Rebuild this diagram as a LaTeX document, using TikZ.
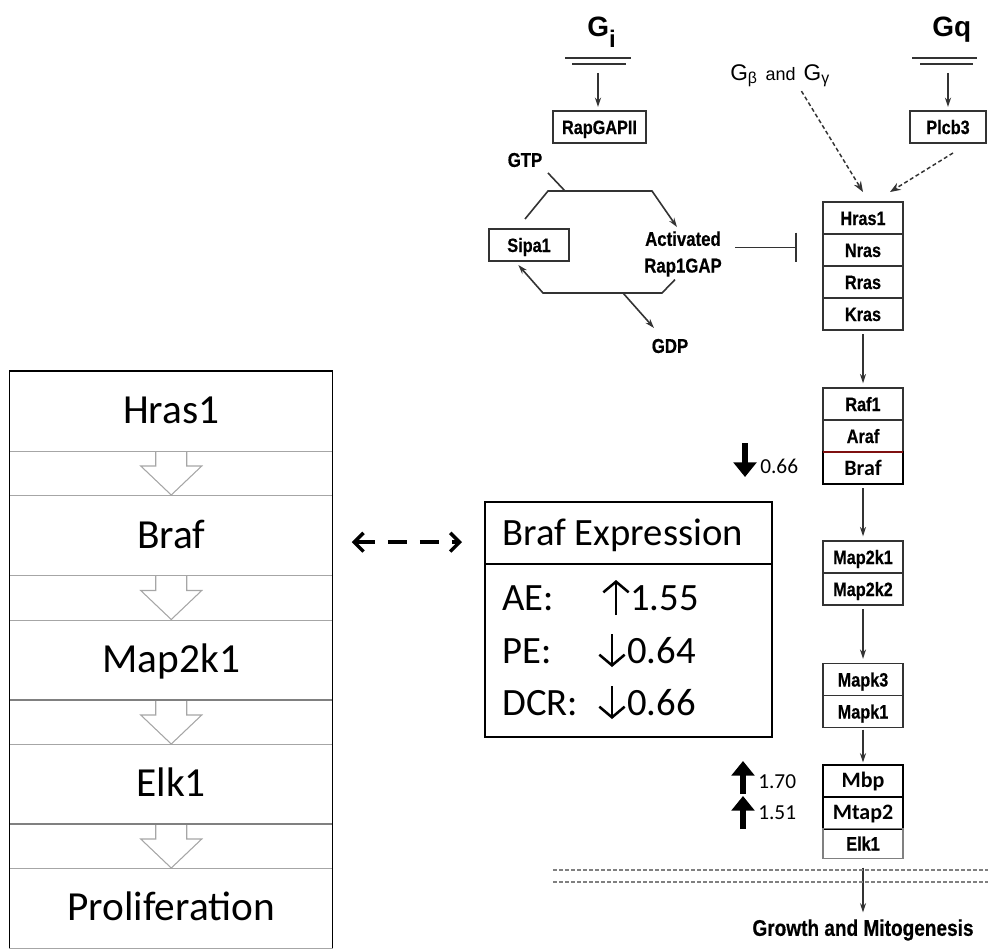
\documentclass[tikz,border=0pt]{standalone}
\usepackage{fontspec}
\setmainfont{Carlito}
\newfontfamily\arialfont{Liberation Sans}
\newfontfamily\narrowfont[FakeStretch=0.84,FakeBold=0.5]{Liberation Sans}
\usetikzlibrary{arrows.meta,positioning}
\definecolor{boxgray}{HTML}{333333}
\definecolor{lightline}{HTML}{A6A6A6}
\definecolor{darkred}{HTML}{7F1010}

\begin{document}
\begin{tikzpicture}[x=0.75pt,y=-0.75pt]
\tikzstyle{stage}=[rectangle,draw=lightline,minimum width=242.25pt,minimum height=60pt,inner sep=0pt,outer sep=0pt,text height=19pt,text depth=0pt,font=\fontsize{31}{31}\selectfont]
\tikzstyle{hollow}=[draw=lightline,line width=0.8pt]
\tikzstyle{gene}=[rectangle,draw=boxgray,line width=1.3pt,minimum width=60pt,minimum height=24pt,inner sep=0pt,outer sep=0pt,text height=10.5pt,text depth=0pt,font=\narrowfont\bfseries\fontsize{14.5}{14.5}\selectfont]
\tikzstyle{hit}=[gene,draw=black,line width=1.5pt,font=\bfseries\fontsize{16.5}{16.5}\selectfont]
\tikzstyle{lbl}=[font=\narrowfont\bfseries\fontsize{15}{20}\selectfont,inner sep=2pt]
\tikzstyle{arr}=[draw=boxgray,line width=1.2pt,-{Stealth[length=7pt,width=4.5pt]}]
\tikzstyle{act}=[arr,shorten <=3pt,shorten >=3.5pt]
\tikzstyle{maybe}=[arr,line width=1.1pt,dash pattern=on 3pt off 2pt,-{Stealth[length=8pt,width=6pt]}]
\tikzstyle{inh}=[draw=boxgray,line width=1.2pt,-{Bar[width=22pt]}]
\tikzstyle{fat}=[line width=3.8pt,-{Triangle[length=11pt,width=17pt]}]
\tikzstyle{thin}=[line width=1.9pt,-{Straight Barb[length=8pt,width=19pt]}]
\tikzstyle{fold}=[font=\fontsize{16}{16}\selectfont,inner sep=0pt]
\tikzstyle{big}=[font=\fontsize{29}{29}\selectfont,inner sep=0pt]
\tikzstyle{dbl}=[line width=2.6pt,dash pattern=on 14pt off 10pt,{Straight Barb[length=7pt,width=14pt]}-{Straight Barb[length=7pt,width=14pt]}]
\useasboundingbox (0,0) rectangle (988,949);

% left column
\node[stage] (hrasA) at (171.25,411) {Hras1};
\node[stage] (brafA) at (171.25,535.5) {Braf};
\node[stage] (mapA) at (171.25,660) {Map2k1};
\node[stage] (elkA) at (171.25,784) {Elk1};
\node[stage] (proA) at (171.25,908) {Proliferation};
\draw[hollow] (hrasA.south) ++(-15.5,0) -- ++(0,15) -- ++(-15,0) -- ++(30.5,29) -- ++(30.5,-29) -- ++(-15,0) -- ++(0,-15);
\draw[hollow] (brafA.south) ++(-15.5,0) -- ++(0,15) -- ++(-15,0) -- ++(30.5,29) -- ++(30.5,-29) -- ++(-15,0) -- ++(0,-15);
\draw[hollow] (mapA.south) ++(-15.5,0) -- ++(0,15) -- ++(-15,0) -- ++(30.5,29) -- ++(30.5,-29) -- ++(-15,0) -- ++(0,-15);
\draw[hollow] (elkA.south) ++(-15.5,0) -- ++(0,15) -- ++(-15,0) -- ++(30.5,29) -- ++(30.5,-29) -- ++(-15,0) -- ++(0,-15);
\draw[gray,line width=1.4pt] (mapA.south west) -- (mapA.south east) (elkA.south west) -- (elkA.south east);
\draw[line width=0.9pt] (proA.south west) -- (hrasA.north west) -- (hrasA.north east) -- (proA.south east);

% expression box
\node[rectangle,draw,line width=0.9pt,minimum width=215.25pt,minimum height=46.5pt,inner sep=0pt,outer sep=0pt] (brafx) at (628.5,533) {};
\node[rectangle,draw,line width=0.9pt,minimum width=215.25pt,minimum height=129.75pt,inner sep=0pt,outer sep=0pt,below=0pt of brafx] (brafv) {};
\node[big,anchor=base west] (title) at (502,545) {Braf Expression};
\node[big,anchor=base west] (ae) at (502,610) {AE:};
\node[big,anchor=base west] (aev) at (630,610) {1.55};
\node[big,anchor=base west] (pe) at (502,663) {PE:};
\node[big,anchor=base west] (pev) at (627,663) {0.64};
\node[big,anchor=base west] (dcr) at (502,715) {DCR:};
\node[big,anchor=base west] (dcrv) at (627,715) {0.66};
\draw[thin] (aev.base west) ++(-14,5) -- ++(0,-35);
\draw[thin] (pev.base west) ++(-15,-29) -- ++(0,33);
\draw[thin] (dcrv.base west) ++(-15,-29) -- ++(0,33);
\draw[dbl,shorten <=14.25pt,shorten >=17.25pt] ([yshift=-5pt]brafA.east) -- ([yshift=-5pt]brafA.east -| brafx.west);

% receptors
\node[font=\arialfont\bfseries\fontsize{21}{21}\selectfont,inner sep=0pt,anchor=base west] (gi) at (587,37) {G\raisebox{-8pt}{\fontsize{18}{18}\selectfont i}};
\node[font=\arialfont\bfseries\fontsize{21}{21}\selectfont,inner sep=0pt,anchor=base west] (gq) at (932,37) {Gq};
\draw[boxgray,line width=1.1pt] (565,58) -- (631,58) (572,64) -- (626,64);
\draw[boxgray,line width=1.1pt] (912,58) -- (977,58) (920,64) -- (973,64);
\coordinate (gibar) at (598,64);
\coordinate (gqbar) at (948,64);
\node[font=\arialfont\fontsize{17}{17}\selectfont,inner sep=0pt,anchor=base west] (gbg) at (730,80) {G\textsubscript{β}\hspace{6pt}{\fontsize{13.5}{13.5}\selectfont and}\hspace{6pt}G\textsubscript{γ}};
\node[gene,minimum width=70pt] (rapgap) at (599.5,127) {RapGAPII};
\node[gene,minimum width=57pt] (plcb3) at (948,127) {Plcb3};
\draw[arr,shorten <=6.75pt,shorten >=3pt] (gibar) -- (gibar |- rapgap.north);
\draw[arr,shorten <=6.75pt,shorten >=3pt] (gqbar) -- (gqbar |- plcb3.north);

% Rap cycle
\node[gene] (sipa1) at (529,245) {Sipa1};
\node[lbl] (gtp) at (525,160) {GTP};
\node[lbl,align=center] (actv) at (683,254) {Activated\\Rap1GAP};
\node[lbl] (gdp) at (670,346) {GDP};
\coordinate (gtpin) at (565,191);
\draw[boxgray,line width=1.2pt,shorten <=3pt] (gtp.south east) -- (gtpin);
\draw[arr] ([xshift=-3pt,yshift=7.5pt]sipa1.north) -- (548,191) -- (652,191) -- ([xshift=-4.5pt,yshift=1pt]actv.north);
\draw[arr] ([xshift=-6pt,yshift=0pt]actv.south) -- (662,293) -- (543,293) -- ([xshift=-8pt,yshift=-3pt]sipa1.south);
\draw[arr] (623,293) -- ([xshift=-12pt,yshift=6pt]gdp.north);

% Ras cascade
\node[gene] (hras) at (863,218) {Hras1};
\node[gene,below=0pt of hras] (nras) {Nras};
\node[gene,below=0pt of nras] (rras) {Rras};
\node[gene,below=0pt of rras] (kras) {Kras};
\node[gene] (raf1) at (863,404) {Raf1};
\node[gene,below=0pt of raf1] (araf) {Araf};
\node[hit,below=0pt of araf] (braf) {Braf};
\draw[darkred,line width=1.5pt] (braf.north west) -- (braf.north east);
\node[gene] (map2k1) at (863,557) {Map2k1};
\node[gene,below=0pt of map2k1] (map2k2) {Map2k2};
\node[gene] (mapk3) at (863,679.5) {Mapk3};
\node[gene,below=0pt of mapk3] (mapk1) {Mapk1};
\node[hit] (mbp) at (863,780.5) {Mbp};
\node[hit,below=0pt of mbp] (mtap2) {Mtap2};
\node[gene,draw=gray,minimum height=22.5pt,below=0pt of mtap2] (elk1) {Elk1};
\node[font=\narrowfont\bfseries\fontsize{17}{17}\selectfont,inner sep=0pt] (growth) at (863,930) {Growth and Mitogenesis};

\draw[maybe] ([xshift=16pt,yshift=-3pt]gbg.south) -- ([yshift=7.5pt]hras.north);
\draw[maybe] ([xshift=3.75pt,yshift=-7.5pt]plcb3.south) -- ([xshift=-9.75pt,yshift=7.5pt]hras.north east);
\draw[inh,shorten <=8pt,shorten >=19.5pt] ([yshift=2pt]nras.west -| actv.east) -- ([yshift=2pt]nras.west);
\draw[act] (kras.south) -- (raf1.north);
\draw[act] (braf.south) -- (map2k1.north);
\draw[act] (map2k2.south) -- (mapk3.north);
\draw[act,shorten <=1.5pt,shorten >=1.5pt] (mapk1.south) -- (mbp.north);
\draw[act,shorten <=6.75pt,shorten >=5pt] (elk1.south) -- (growth.north);

% membrane
\draw[gray,line width=0.9pt,dash pattern=on 3pt off 1.5pt] (553,870) -- (988,870) (553,882) -- (988,882);

% fold changes
\node[fold,anchor=west] (brafdn) at (760,466) {0.66};
\draw[fat] (brafdn.west) ++(-15,-23) -- ++(0,34);
\node[fold,anchor=west] (mbpup) at (758,782) {1.70};
\draw[fat] (mbpup.west) ++(-15,12) -- ++(0,-33);
\node[fold,anchor=west] (mtapup) at (758,813) {1.51};
\draw[fat] (mtapup.west) ++(-15,16) -- ++(0,-33);
\end{tikzpicture}
\end{document}
